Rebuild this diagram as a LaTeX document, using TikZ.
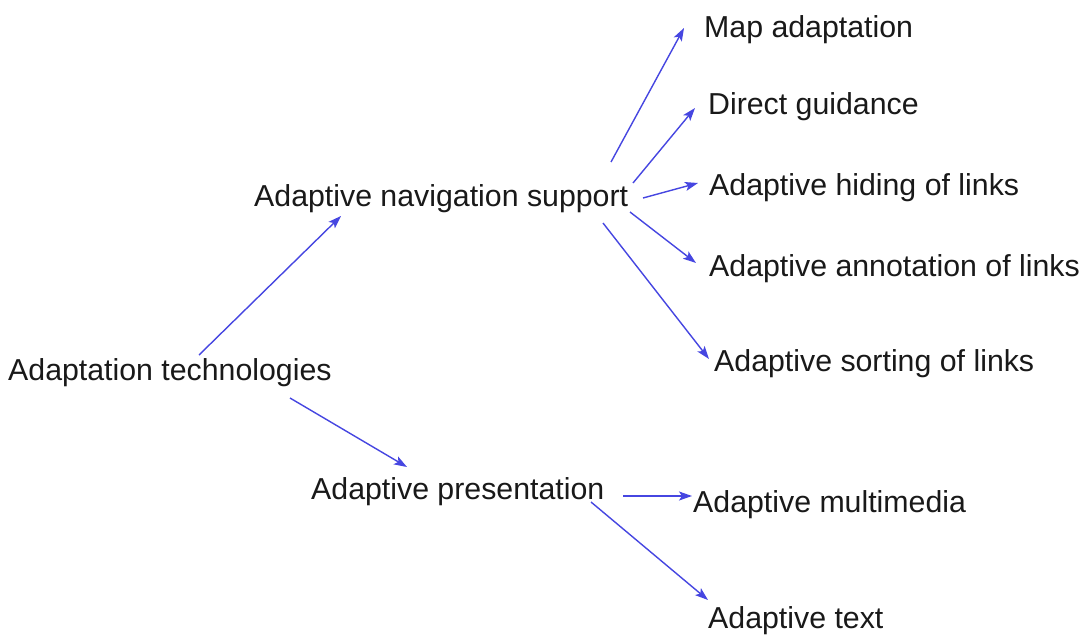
\documentclass[tikz,border=0pt]{standalone}
\usepackage{fontspec}
\setmainfont{Liberation Sans}
\usetikzlibrary{arrows.meta}
\definecolor{linkblue}{RGB}{70,70,225}
\definecolor{labelgray}{RGB}{25,25,25}
\tikzset{
  label/.style={anchor=base west, inner sep=0pt, text=labelgray,
    font=\fontsize{30.3}{36}\selectfont},
  link/.style={draw=linkblue, line width=1.4pt,
    -{Stealth[length=13pt, width=9pt, inset=3pt]}}
}
\begin{document}
\begin{tikzpicture}[x=1pt, y=-1pt]
\useasboundingbox (0,0) rectangle (1081,637);
\fill[white] (0,0) rectangle (1081,637);

% labels
\node[label] (root) at (8,380) {Adaptation technologies};
\node[label] (nav) at (254,206) {Adaptive navigation support};
\node[label] (pres) at (311,499) {Adaptive presentation};
\node[label] (map) at (704,37) {Map adaptation};
\node[label] (guide) at (708,114) {Direct guidance};
\node[label] (hide) at (709,195) {Adaptive hiding of links};
\node[label] (annot) at (709,276) {Adaptive annotation of links};
\node[label] (sort) at (714,371) {Adaptive sorting of links};
\node[label] (mm) at (693,512) {Adaptive multimedia};
\node[label] (txt) at (708,628) {Adaptive text};

% connector end points
\coordinate (rootA) at (199,355);  \coordinate (navIn) at (341,216);
\coordinate (rootB) at (290,398);  \coordinate (presIn) at (407,467);
\coordinate (navA) at (611,162);   \coordinate (mapIn) at (684,28);
\coordinate (navB) at (633,183);   \coordinate (guideIn) at (695,108);
\coordinate (navC) at (643,198);   \coordinate (hideIn) at (698,183);
\coordinate (navD) at (630,212);   \coordinate (annotIn) at (696,263);
\coordinate (navE) at (603,223);   \coordinate (sortIn) at (709,359);
\coordinate (presA) at (623,496);  \coordinate (mmIn) at (692,496);
\coordinate (presB) at (591,502);  \coordinate (txtIn) at (708,600);

% connectors
\draw[link] (rootA) -- (navIn);
\draw[link] (rootB) -- (presIn);
\draw[link] (navA) -- (mapIn);
\draw[link] (navB) -- (guideIn);
\draw[link] (navC) -- (hideIn);
\draw[link] (navD) -- (annotIn);
\draw[link] (navE) -- (sortIn);
\draw[link] (presA) -- (mmIn);
\draw[link] (presB) -- (txtIn);
\end{tikzpicture}
\end{document}
